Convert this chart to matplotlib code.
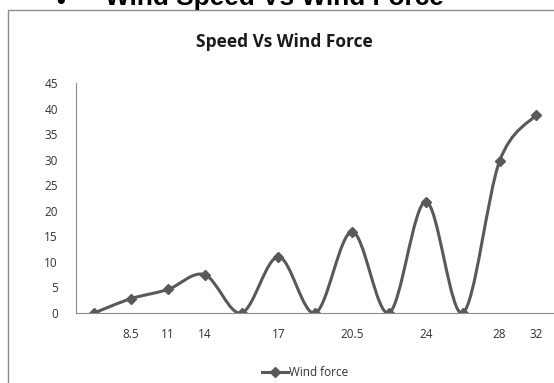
import numpy as np
import matplotlib.pyplot as plt
from matplotlib.path import Path
from matplotlib.patches import PathPatch, Rectangle
from matplotlib.lines import Line2D

# datos
etiquetas = ['', '8.5', '11', '14', '', '17', '', '20.5', '', '24', '', '28', '32']
fuerza = [0, 2.8, 4.6, 7.5, 0, 11.0, 0, 15.9, 0, 21.8, 0, 29.7, 38.8]

color_linea = '#595959'

fig = plt.figure(figsize=(5.54, 3.83), dpi=100)

# titulo de la diapositiva (cortado arriba)
fig.text(56 / 554, 1.0 - 9 / 383, '\u2022', fontsize=18, fontweight='bold',
         family='Liberation Sans', va='baseline', ha='left')
fig.text(105 / 554, 1.0 - 5.5 / 383, 'Wind Speed Vs Wind Force', fontsize=18.9,
         fontweight='bold', family='Liberation Sans', va='baseline', ha='left')

# marco del grafico
fig.patches.append(Rectangle((8 / 554, -0.05), 1.0, 1 - 10 / 383 + 0.05,
                             transform=fig.transFigure, fill=False,
                             edgecolor='#8c8c8c', linewidth=1.0))

fig.text(284 / 554, 1 - 42 / 383, 'Speed Vs Wind Force', fontsize=12.5,
         fontweight='bold', family='Open Sans', ha='center', va='center',
         color='#1a1a1a')

ax = fig.add_axes([76 / 554, 1 - 313 / 383, (553 - 76) / 554, (313 - 83) / 383])

x = np.arange(len(fuerza))
y = np.array(fuerza, dtype=float)

# curva suavizada tipo Excel (bezier con tangentes de Catmull-Rom)
pts = np.column_stack([x, y])
ext = np.vstack([pts[0], pts, pts[-1]])
verts = [tuple(pts[0])]
codes = [Path.MOVETO]
for i in range(len(pts) - 1):
    p0, p1, p2, p3 = ext[i], ext[i + 1], ext[i + 2], ext[i + 3]
    c1 = p1 + (p2 - p0) / 6
    c2 = p2 - (p3 - p1) / 6
    verts += [tuple(c1), tuple(c2), tuple(p2)]
    codes += [Path.CURVE4] * 3
ax.add_patch(PathPatch(Path(verts, codes), fill=False, edgecolor=color_linea,
                       linewidth=2.2, capstyle='round', joinstyle='round'))
ax.plot(x, y, linestyle='none', marker='D', markersize=5.5, color=color_linea)

ax.set_xlim(-0.49, 12.45)
ax.set_ylim(0, 45)
ax.set_yticks(range(0, 46, 5))
ax.set_xticks(x)
ax.set_xticklabels(etiquetas)
ax.tick_params(length=0, labelsize=8.5, labelcolor='#333333')
ax.tick_params(axis='x', pad=11)
ax.tick_params(axis='y', pad=13)
for lab in ax.get_xticklabels() + ax.get_yticklabels():
    lab.set_family('Open Sans')

for s in ['top', 'right']:
    ax.spines[s].set_visible(False)
ax.spines['left'].set_color('#8c8c8c')
ax.spines['bottom'].set_color('#8c8c8c')
ax.patch.set_alpha(0)

handle = Line2D([], [], color=color_linea, linewidth=2.2, marker='D', markersize=5)
fig.legend([handle], ['Wind force'], loc='center', bbox_to_anchor=(305 / 554, 1 - 373 / 383),
           frameon=False, prop={'family': 'Open Sans', 'size': 8.5}, handlelength=2.2,
           handletextpad=0.1, labelcolor='#333333')

fig.savefig('out.png', dpi=100)
